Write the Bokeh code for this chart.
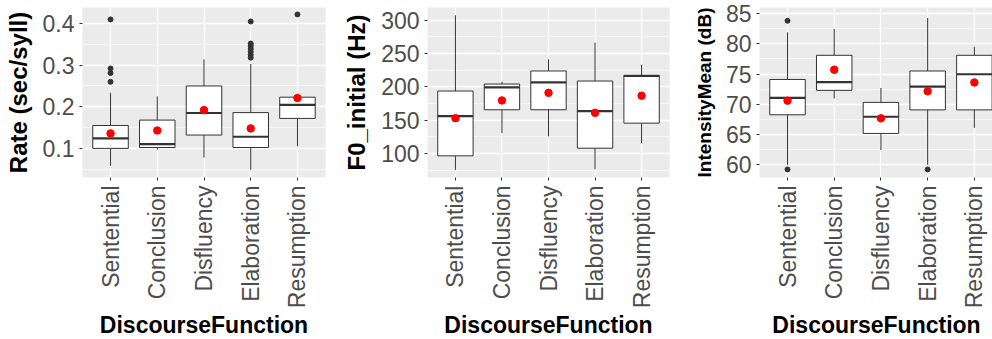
import math
from bokeh.plotting import figure
from bokeh.layouts import row
from bokeh.models import Range1d, FixedTicker, ColumnDataSource
from bokeh.embed import file_html
from bokeh.resources import INLINE

cats = ["Sentential", "Conclusion", "Disfluency", "Elaboration", "Resumption"]
x_title = "DiscourseFunction"

# Panel 1: Rate (sec/syll)
rate_q1 = [0.100, 0.102, 0.132, 0.102, 0.172]
rate_med = [0.124, 0.110, 0.185, 0.128, 0.2045]
rate_q3 = [0.155, 0.168, 0.250, 0.186, 0.223]
rate_lo = [0.058, 0.097, 0.078, 0.0485, 0.105]
rate_hi = [0.2335, 0.225, 0.314, 0.303, 0.225]
rate_mean = [0.136, 0.143, 0.192, 0.148, 0.221]
rate_out_cat = ["Sentential"] * 4 + ["Elaboration"] * 7 + ["Resumption"]
rate_out_val = [0.410, 0.292, 0.281, 0.260,
                0.405, 0.352, 0.346, 0.339, 0.332, 0.325, 0.318,
                0.422]
rate_ticks = [0.1, 0.2, 0.3, 0.4]
rate_tick_labels = ["0.1", "0.2", "0.3", "0.4"]
rate_minor = [0.05, 0.15, 0.25, 0.35]

# Panel 2: F0_initial (Hz)
f0_q1 = [96.4, 165.6, 165.6, 107.9, 145.5]
f0_med = [156.0, 199.2, 206.7, 163.6, 216.3]
f0_q3 = [193.7, 204.2, 223.8, 208.7, 217.3]
f0_lo = [75.3, 130.5, 125.5, 76.3, 115.5]
f0_hi = [307.5, 207.7, 241.3, 266.4, 233.3]
f0_mean = [153.0, 179.6, 191.0, 161.0, 186.7]
f0_out_cat = []
f0_out_val = []
f0_ticks = [100, 150, 200, 250, 300]
f0_tick_labels = ["100", "150", "200", "250", "300"]
f0_minor = [75, 125, 175, 225, 275]

# Panel 3: IntensityMean (dB)
int_q1 = [68.26, 72.30, 65.18, 69.07, 69.07]
int_med = [71.07, 73.66, 67.94, 72.90, 74.96]
int_q3 = [74.10, 78.09, 70.31, 75.50, 78.09]
int_lo = [60.0, 70.96, 62.43, 60.0, 66.10]
int_hi = [81.90, 82.46, 72.69, 84.24, 79.49]
int_mean = [70.60, 75.71, 67.67, 72.15, 73.60]
int_out_cat = ["Sentential", "Sentential", "Elaboration"]
int_out_val = [83.80, 59.24, 59.24]
int_ticks = [60, 65, 70, 75, 80, 85]
int_tick_labels = ["60", "65", "70", "75", "80", "85"]
int_minor = [57.5, 62.5, 67.5, 72.5, 77.5, 82.5]

FONT = "Liberation Sans"
DARK = "#333333"


def panel(q1, med, q3, lo, hi, mean, out_cat, out_val, y_start, y_end,
          ticks, tick_labels, minor, ylabel, ylabel_size, x_end,
          border_left, border_right, frame_w):
    xs = [i + 1 for i in range(len(cats))]
    p = figure(frame_width=frame_w, frame_height=170,
               x_range=Range1d(0.4, x_end), y_range=Range1d(y_start, y_end),
               output_backend="svg", toolbar_location=None,
               min_border_left=border_left, min_border_right=border_right,
               min_border_top=7, min_border_bottom=162)
    p.background_fill_color = "#EBEBEB"
    p.border_fill_color = "white"
    p.outline_line_color = None

    xt = FixedTicker(ticks=xs)
    yt = FixedTicker(ticks=ticks, minor_ticks=minor)
    p.xaxis.ticker = xt
    p.yaxis.ticker = yt
    p.xgrid.ticker = xt
    p.ygrid.ticker = yt
    p.xaxis.major_label_overrides = {x: c for x, c in zip(xs, cats)}
    p.yaxis.major_label_overrides = {t: l for t, l in zip(ticks, tick_labels)}

    for g in (p.xgrid, p.ygrid):
        g.grid_line_color = "white"
        g.grid_line_width = 1.3
    p.ygrid.minor_grid_line_color = "white"
    p.ygrid.minor_grid_line_width = 0.6

    for ax in (p.xaxis, p.yaxis):
        ax.axis_line_color = None
        ax.major_tick_line_color = DARK
        ax.major_tick_line_width = 1
        ax.major_tick_out = 3
        ax.major_tick_in = 0
        ax.minor_tick_line_color = None
        ax.major_label_text_font = FONT
        ax.major_label_text_font_size = "23px"
        ax.major_label_text_color = "#4D4D4D"
        ax.axis_label_text_font = FONT
        ax.axis_label_text_font_style = "bold"
        ax.axis_label_text_color = "black"

    p.xaxis.major_label_orientation = math.pi / 2
    p.xaxis.major_label_standoff = 5
    p.xaxis.axis_label = x_title
    p.xaxis.axis_label_text_font_size = "23px"
    p.xaxis.axis_label_standoff = 1

    p.yaxis.major_label_standoff = 4
    p.yaxis.axis_label = ylabel
    p.yaxis.axis_label_text_font_size = ylabel_size
    p.yaxis.axis_label_standoff = 8

    src = ColumnDataSource(dict(x=xs, q1=q1, med=med, q3=q3, lo=lo, hi=hi, mean=mean))
    w = 0.76
    # whiskers
    p.segment(x0="x", y0="q3", x1="x", y1="hi", source=src, line_color=DARK, line_width=1)
    p.segment(x0="x", y0="lo", x1="x", y1="q1", source=src, line_color=DARK, line_width=1)
    # boxes
    p.vbar(x="x", width=w, bottom="q1", top="q3", source=src,
           fill_color="white", line_color=DARK, line_width=1)
    # medians
    src_m = ColumnDataSource(dict(x0=[x - w / 2 for x in xs], x1=[x + w / 2 for x in xs], med=med))
    p.segment(x0="x0", y0="med", x1="x1", y1="med", source=src_m, line_color=DARK, line_width=2.2)
    # outliers
    ox = [cats.index(c) + 1 for c in out_cat]
    p.scatter(ox, out_val, size=5, color=DARK)
    # means
    p.scatter(x="x", y="mean", source=src, size=7.5, color="red")
    return p


p1 = panel(rate_q1, rate_med, rate_q3, rate_lo, rate_hi, rate_mean,
           rate_out_cat, rate_out_val, 0.030, 0.4386,
           rate_ticks, rate_tick_labels, rate_minor, "Rate (sec/syll)", "24px",
           5.6, 82, 15, 243)
p2 = panel(f0_q1, f0_med, f0_q3, f0_lo, f0_hi, f0_mean,
           f0_out_cat, f0_out_val, 63.9, 319.1,
           f0_ticks, f0_tick_labels, f0_minor, "F0_initial (Hz)", "24px",
           5.6, 86, 12, 242)
p3 = panel(int_q1, int_med, int_q3, int_lo, int_hi, int_mean,
           int_out_cat, int_out_val, 57.90, 85.99,
           int_ticks, int_tick_labels, int_minor, "IntensityMean (dB)", "19px",
           5.41, 78, 0, 234)

layout = row(p1, p2, p3, spacing=0)
open("out.html", "w").write(file_html(layout, INLINE))
